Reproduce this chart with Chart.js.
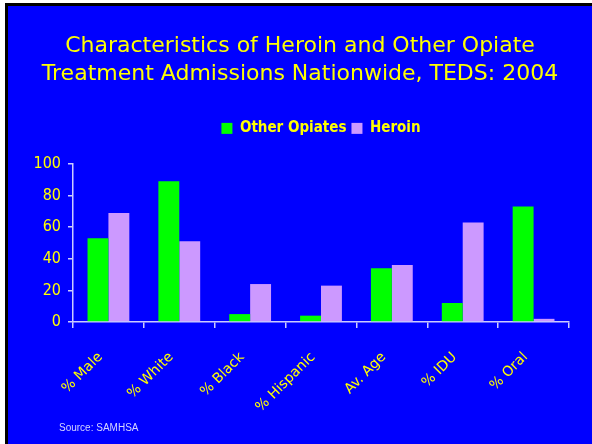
<!DOCTYPE html>
<html>
<head>
<meta charset="utf-8">
<script src="https://cdn.jsdelivr.net/npm/chart.js@4"></script>
<style>
	html, body { margin: 0; padding: 0; background: #fff; overflow: hidden; }
	#frame {
		position: absolute;
		left: 5px;
		top: 3px;
		width: 600px;
		height: 460px;
		border-left: 3px solid #000;
		border-top: 3px solid #000;
		background: #0000ff;
	}
	canvas { display: block; }
</style>
</head>
<body>
<div id="frame"><canvas id="chart" width="584" height="438"></canvas></div>
<script>
const categories = ['% Male', '% White', '% Black', '% Hispanic', 'Av. Age', '% IDU', '% Oral'];
const otherOpiates = [53, 89, 5, 4, 34, 12, 73];
const heroin = [69, 51, 24, 23, 36, 63, 2];
const yTicks = [0, 20, 40, 60, 80, 100];

const fontFamily = "'DejaVu Sans', sans-serif";
const condensed = "'DejaVu Sans Condensed', 'DejaVu Sans', sans-serif";
const yellow = '#ffff00';
const axisColor = '#ccccff';

// source line sits under the chart, left aligned
const sourcePlugin = {
	id: 'source',
	afterDraw(chart) {
		const ctx = chart.ctx;
		ctx.save();
		ctx.font = "10px 'Liberation Sans', sans-serif";
		ctx.fillStyle = '#d4d4ff';
		ctx.textBaseline = 'middle';
		ctx.textAlign = 'left';
		ctx.fillText('Source: SAMHSA', 51, 422);
		ctx.restore();
	}
};

// make the legend box tall enough so the plot starts where it should
const legendHeightPlugin = {
	id: 'legendHeight',
	beforeInit(chart) {
		const origFit = chart.legend.fit;
		chart.legend.fit = function () {
			origFit.bind(chart.legend)();
			this.height = 48;
		};
	}
};

new Chart(document.getElementById('chart'), {
	type: 'bar',
	data: {
		labels: categories,
		datasets: [
			{
				label: 'Other Opiates',
				data: otherOpiates,
				backgroundColor: '#00ff00',
				borderWidth: 0
			},
			{
				label: 'Heroin',
				data: heroin,
				backgroundColor: '#cc99ff',
				borderWidth: 0
			}
		]
	},
	options: {
		responsive: false,
		animation: false,
		layout: {
			padding: 0
		},
		datasets: {
			bar: {
				categoryPercentage: 0.59,
				barPercentage: 1.0
			}
		},
		plugins: {
			title: {
				display: true,
				text: ['Characteristics of Heroin and Other Opiate', 'Treatment Admissions Nationwide, TEDS: 2004'],
				color: yellow,
				font: { family: fontFamily, size: 22, weight: 'normal', lineHeight: 1.27 },
				padding: { top: 26, bottom: 28 }
			},
			legend: {
				display: true,
				fullSize: false,
				labels: {
					color: yellow,
					boxWidth: 11,
					boxHeight: 11,
					padding: 5,
					font: { family: condensed, size: 15, weight: 'bold' }
				}
			},
			tooltip: { enabled: false }
		},
		scales: {
			x: {
				grid: {
					offset: true,
					drawOnChartArea: false,
					drawTicks: true,
					tickLength: 6,
					color: axisColor,
					lineWidth: 1.5
				},
				border: { color: axisColor, width: 1.5 },
				ticks: {
					color: yellow,
					font: { family: fontFamily, size: 14 },
					minRotation: 45,
					maxRotation: 45,
					padding: 21,
					labelOffset: -8
				},
				afterFit(scale) {
					scale.height = 122;
				}
			},
			y: {
				min: 0,
				max: 100,
				afterBuildTicks(scale) {
					scale.ticks = yTicks.map(v => ({ value: v }));
				},
				grid: {
					drawOnChartArea: false,
					drawTicks: true,
					tickLength: 5,
					color: axisColor,
					lineWidth: 1.5
				},
				border: { color: axisColor, width: 1.5 },
				ticks: {
					color: yellow,
					font: { family: condensed, size: 16 },
					padding: 7
				},
				afterFit(scale) {
					scale.width = 65;
				}
			},
			// empty right-hand gutter, keeps the title centred on the whole slide
			gutter: {
				type: 'linear',
				position: 'right',
				min: 0,
				max: 100,
				grid: { display: false },
				border: { display: false },
				ticks: { display: false },
				afterFit(scale) {
					scale.width = 23;
				}
			}
		}
	},
	plugins: [sourcePlugin, legendHeightPlugin]
});
</script>
</body>
</html>
